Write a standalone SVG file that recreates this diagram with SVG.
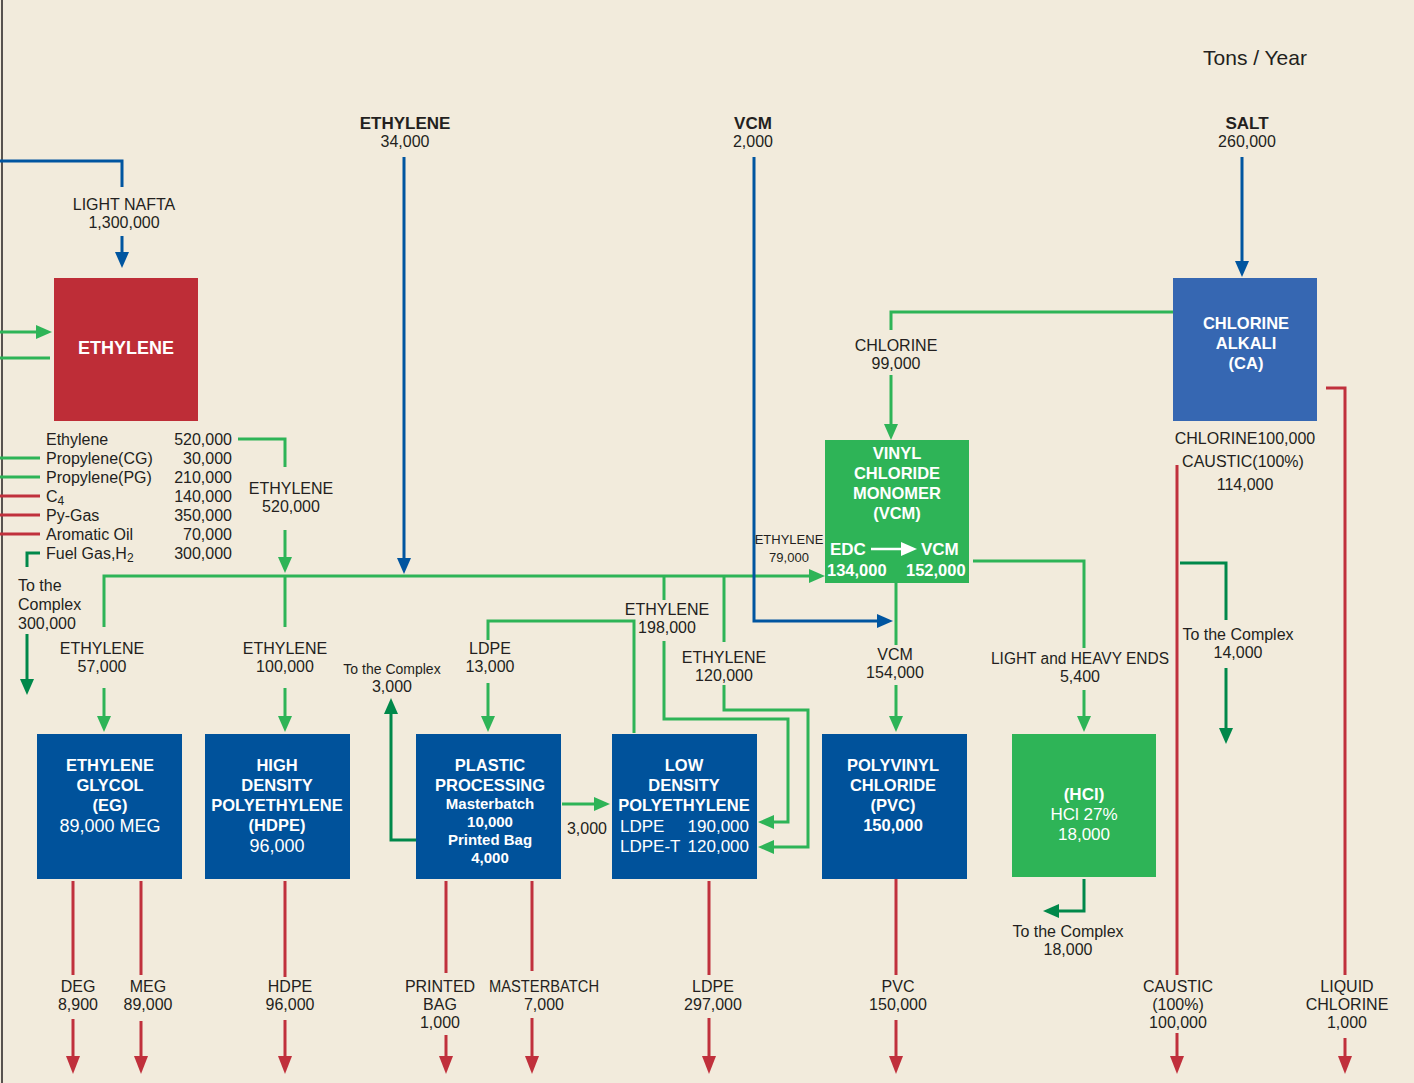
<svg xmlns="http://www.w3.org/2000/svg" width="1414" height="1083" viewBox="0 0 1414 1083">
<style>
text{font-family:"Liberation Sans",Arial,sans-serif;fill:#231f20;font-size:16px;text-anchor:middle}
.h{font-weight:bold;font-size:17px}
.wb{fill:#ffffff;font-weight:bold;font-size:16.5px}
.wr{fill:#ffffff;font-size:17px}
.s{font-size:14px}
.l{text-anchor:start}
.r{text-anchor:end}
.g{fill:none;stroke:#2eb457;stroke-width:3}
.dg{fill:none;stroke:#00884a;stroke-width:3}
.bl{fill:none;stroke:#0055a0;stroke-width:3}
.rd{fill:none;stroke:#c0303c;stroke-width:3}
</style>
<defs>
<marker id="mg" viewBox="0 0 16 14" refX="10" refY="7" markerWidth="16" markerHeight="14" markerUnits="userSpaceOnUse" orient="auto"><path d="M0,0 L16,7 L0,14 z" fill="#2eb457"/></marker>
<marker id="mdg" viewBox="0 0 16 14" refX="10" refY="7" markerWidth="16" markerHeight="14" markerUnits="userSpaceOnUse" orient="auto"><path d="M0,0 L16,7 L0,14 z" fill="#00884a"/></marker>
<marker id="mb" viewBox="0 0 16 14" refX="10" refY="7" markerWidth="16" markerHeight="14" markerUnits="userSpaceOnUse" orient="auto"><path d="M0,0 L16,7 L0,14 z" fill="#0055a0"/></marker>
<marker id="mr" viewBox="0 0 18 14" refX="12" refY="7" markerWidth="18" markerHeight="14" markerUnits="userSpaceOnUse" orient="auto"><path d="M0,0 L18,7 L0,14 z" fill="#c0303c"/></marker>
<marker id="mw" viewBox="0 0 16 14" refX="10" refY="7" markerWidth="16" markerHeight="14" markerUnits="userSpaceOnUse" orient="auto"><path d="M0,0 L16,7 L0,14 z" fill="#ffffff"/></marker>
</defs>
<rect x="0" y="0" width="1414" height="1083" fill="#f2ebdc"/>
<line x1="2" y1="0" x2="2" y2="1083" stroke="#231f20" stroke-width="1.5"/>

<g id="connectors">
<path class="g" d="M0,332 H46" marker-end="url(#mg)"/>
<path class="g" d="M0,358 H50"/>
<path class="g" d="M0,458 H40 M0,477 H40"/>
<path class="g" d="M238,439 H285 V467"/>
<path class="g" d="M285,530 V567" marker-end="url(#mg)"/>
<path class="g" d="M104,627 V576 H819" marker-end="url(#mg)"/>
<path class="g" d="M285,576 V627"/>
<path class="g" d="M104,688 V726" marker-end="url(#mg)"/>
<path class="g" d="M285,688 V726" marker-end="url(#mg)"/>
<path class="g" d="M634,733 V621 H488 V640"/>
<path class="g" d="M488,683 V726" marker-end="url(#mg)"/>
<path class="g" d="M664,576 V600"/>
<path class="g" d="M664,641 V719 H788 V822 H764" marker-end="url(#mg)"/>
<path class="g" d="M724,576 V642"/>
<path class="g" d="M724,685 V710 H808 V847 H764" marker-end="url(#mg)"/>
<path class="g" d="M562,804 H604" marker-end="url(#mg)"/>
<path class="g" d="M1173,312 H891 V330"/>
<path class="g" d="M891,375 V434" marker-end="url(#mg)"/>
<path class="g" d="M973,561 H1084 V648"/>
<path class="g" d="M1084,690 V726" marker-end="url(#mg)"/>
<path class="g" d="M896,583 V645"/>
<path class="g" d="M896,685 V726" marker-end="url(#mg)"/>
<path class="dg" d="M40,553 H27 V567"/>
<path class="dg" d="M27,634 V689" marker-end="url(#mdg)"/>
<path class="dg" d="M416,840 H391 V704" marker-end="url(#mdg)"/>
<path class="dg" d="M1084,879 V911 H1049" marker-end="url(#mdg)"/>
<path class="dg" d="M1180,563 H1226 V620"/>
<path class="dg" d="M1226,668 V738" marker-end="url(#mdg)"/>
<path class="bl" d="M0,161 H122 V187"/>
<path class="bl" d="M122,236 V262" marker-end="url(#mb)"/>
<path class="bl" d="M404,157 V568" marker-end="url(#mb)"/>
<path class="bl" d="M754,157 V621 H887" marker-end="url(#mb)"/>
<path class="bl" d="M1242,157 V271" marker-end="url(#mb)"/>
<path class="rd" d="M0,496 H40 M0,515 H40 M0,534 H40"/>
<path class="rd" d="M73,881 V975 M141,881 V975 M285,881 V977 M446,881 V973 M532,881 V971 M709,881 V975 M896,879 V975 M1177,465 V975"/>
<path class="rd" d="M73,1019 V1068" marker-end="url(#mr)"/>
<path class="rd" d="M141,1021 V1068" marker-end="url(#mr)"/>
<path class="rd" d="M285,1020 V1068" marker-end="url(#mr)"/>
<path class="rd" d="M446,1035 V1068" marker-end="url(#mr)"/>
<path class="rd" d="M532,1018 V1068" marker-end="url(#mr)"/>
<path class="rd" d="M709,1018 V1068" marker-end="url(#mr)"/>
<path class="rd" d="M896,1020 V1068" marker-end="url(#mr)"/>
<path class="rd" d="M1177,1033 V1068" marker-end="url(#mr)"/>
<path class="rd" d="M1326,388 H1345 V975"/>
<path class="rd" d="M1345,1038 V1068" marker-end="url(#mr)"/>
</g>

<g id="labels">
<text x="1255" y="65" style="font-size:21px">Tons / Year</text>
<text class="h" x="405" y="129">ETHYLENE</text><text x="405" y="147">34,000</text>
<text class="h" x="753" y="129">VCM</text><text x="753" y="147">2,000</text>
<text class="h" x="1247" y="129">SALT</text><text x="1247" y="147">260,000</text>
<text x="124" y="210">LIGHT NAFTA</text><text x="124" y="228">1,300,000</text>
<text class="l" x="46" y="445">Ethylene</text>
<text class="l" x="46" y="464">Propylene(CG)</text>
<text class="l" x="46" y="483">Propylene(PG)</text>
<text class="l" x="46" y="502">C<tspan dy="3" style="font-size:12px">4</tspan></text>
<text class="l" x="46" y="521">Py-Gas</text>
<text class="l" x="46" y="540">Aromatic Oil</text>
<text class="l" x="46" y="559">Fuel Gas,H<tspan dy="3" style="font-size:12px">2</tspan></text>
<text class="r" x="232" y="445">520,000</text>
<text class="r" x="232" y="464">30,000</text>
<text class="r" x="232" y="483">210,000</text>
<text class="r" x="232" y="502">140,000</text>
<text class="r" x="232" y="521">350,000</text>
<text class="r" x="232" y="540">70,000</text>
<text class="r" x="232" y="559">300,000</text>
<text x="291" y="494">ETHYLENE</text><text x="291" y="512">520,000</text>
<text class="l" x="18" y="591">To the</text><text class="l" x="18" y="610">Complex</text><text class="l" x="18" y="629">300,000</text>
<text x="102" y="654">ETHYLENE</text><text x="102" y="672">57,000</text>
<text x="285" y="654">ETHYLENE</text><text x="285" y="672">100,000</text>
<text class="s" x="392" y="674">To the Complex</text><text x="392" y="692">3,000</text>
<text x="490" y="654">LDPE</text><text x="490" y="672">13,000</text>
<text x="667" y="615">ETHYLENE</text><text x="667" y="633">198,000</text>
<text x="724" y="663">ETHYLENE</text><text x="724" y="681">120,000</text>
<text x="789" y="544" style="font-size:13px">ETHYLENE</text><text x="789" y="562" style="font-size:13px">79,000</text>
<text x="896" y="351">CHLORINE</text><text x="896" y="369">99,000</text>
<text x="895" y="660">VCM</text><text x="895" y="678">154,000</text>
<text x="1080" y="664" textLength="178" lengthAdjust="spacingAndGlyphs">LIGHT and HEAVY ENDS</text><text x="1080" y="682">5,400</text>
<text x="1245" y="444">CHLORINE100,000</text><text x="1243" y="467">CAUSTIC(100%)</text><text x="1245" y="490">114,000</text>
<text x="1238" y="640">To the Complex</text><text x="1238" y="658">14,000</text>
<text x="1068" y="937">To the Complex</text><text x="1068" y="955">18,000</text>
<text x="587" y="834">3,000</text>
<text x="78" y="992">DEG</text><text x="78" y="1010">8,900</text>
<text x="148" y="992">MEG</text><text x="148" y="1010">89,000</text>
<text x="290" y="992">HDPE</text><text x="290" y="1010">96,000</text>
<text x="440" y="992">PRINTED</text><text x="440" y="1010">BAG</text><text x="440" y="1028">1,000</text>
<text x="544" y="992" textLength="110" lengthAdjust="spacingAndGlyphs">MASTERBATCH</text><text x="544" y="1010">7,000</text>
<text x="713" y="992">LDPE</text><text x="713" y="1010">297,000</text>
<text x="898" y="992">PVC</text><text x="898" y="1010">150,000</text>
<text x="1178" y="992">CAUSTIC</text><text x="1178" y="1010">(100%)</text><text x="1178" y="1028">100,000</text>
<text x="1347" y="992">LIQUID</text><text x="1347" y="1010">CHLORINE</text><text x="1347" y="1028">1,000</text>
</g>

<g id="node-ethylene">
<rect x="54" y="278" width="144" height="143" fill="#be2d37"/>
<text class="wb" x="126" y="354" style="font-size:18px">ETHYLENE</text>
</g>
<g id="node-ca">
<rect x="1173" y="278" width="144" height="143" fill="#3667b2"/>
<text class="wb" x="1246" y="329">CHLORINE</text><text class="wb" x="1246" y="349">ALKALI</text><text class="wb" x="1246" y="369">(CA)</text>
</g>
<g id="node-vcm">
<rect x="825" y="440" width="144" height="143" fill="#2eb457"/>
<text class="wb" x="897" y="459">VINYL</text><text class="wb" x="897" y="479">CHLORIDE</text><text class="wb" x="897" y="499">MONOMER</text><text class="wb" x="897" y="519">(VCM)</text>
<text class="wb l" x="830" y="555" style="font-size:17px">EDC</text>
<text class="wb l" x="921" y="555" style="font-size:17px">VCM</text>
<text class="wb l" x="827" y="576">134,000</text>
<text class="wb l" x="906" y="576">152,000</text>
<path d="M871,549 H911" stroke="#ffffff" stroke-width="2.5" fill="none" marker-end="url(#mw)"/>
</g>
<g id="node-hcl">
<rect x="1012" y="734" width="144" height="143" fill="#2eb457"/>
<text class="wb" x="1084" y="800" style="font-size:17px">(HCl)</text><text class="wr" x="1084" y="820">HCl 27%</text><text class="wr" x="1084" y="840">18,000</text>
</g>
<g id="node-eg">
<rect x="37" y="734" width="145" height="145" fill="#00529b"/>
<text class="wb" x="110" y="771">ETHYLENE</text><text class="wb" x="110" y="791">GLYCOL</text><text class="wb" x="110" y="811">(EG)</text><text class="wr" x="110" y="832" style="font-size:18px">89,000 MEG</text>
</g>
<g id="node-hdpe">
<rect x="205" y="734" width="145" height="145" fill="#00529b"/>
<text class="wb" x="277" y="771">HIGH</text><text class="wb" x="277" y="791">DENSITY</text><text class="wb" x="277" y="811">POLYETHYLENE</text><text class="wb" x="277" y="831">(HDPE)</text><text class="wr" x="277" y="852" style="font-size:18px">96,000</text>
</g>
<g id="node-pp">
<rect x="416" y="734" width="145" height="145" fill="#00529b"/>
<text class="wb" x="490" y="771">PLASTIC</text><text class="wb" x="490" y="791">PROCESSING</text>
<text class="wb" x="490" y="809" style="font-size:15px">Masterbatch</text><text class="wb" x="490" y="827" style="font-size:15px">10,000</text>
<text class="wb" x="490" y="845" style="font-size:15px">Printed Bag</text><text class="wb" x="490" y="863" style="font-size:15px">4,000</text>
</g>
<g id="node-ldpe">
<rect x="612" y="734" width="145" height="145" fill="#00529b"/>
<text class="wb" x="684" y="771">LOW</text><text class="wb" x="684" y="791">DENSITY</text><text class="wb" x="684" y="811">POLYETHYLENE</text>
<text class="wr l" x="620" y="832">LDPE</text><text class="wr r" x="749" y="832">190,000</text>
<text class="wr l" x="620" y="852">LDPE-T</text><text class="wr r" x="749" y="852">120,000</text>
</g>
<g id="node-pvc">
<rect x="822" y="734" width="145" height="145" fill="#00529b"/>
<text class="wb" x="893" y="771">POLYVINYL</text><text class="wb" x="893" y="791">CHLORIDE</text><text class="wb" x="893" y="811">(PVC)</text><text class="wb" x="893" y="831">150,000</text>
</g>
</svg>
